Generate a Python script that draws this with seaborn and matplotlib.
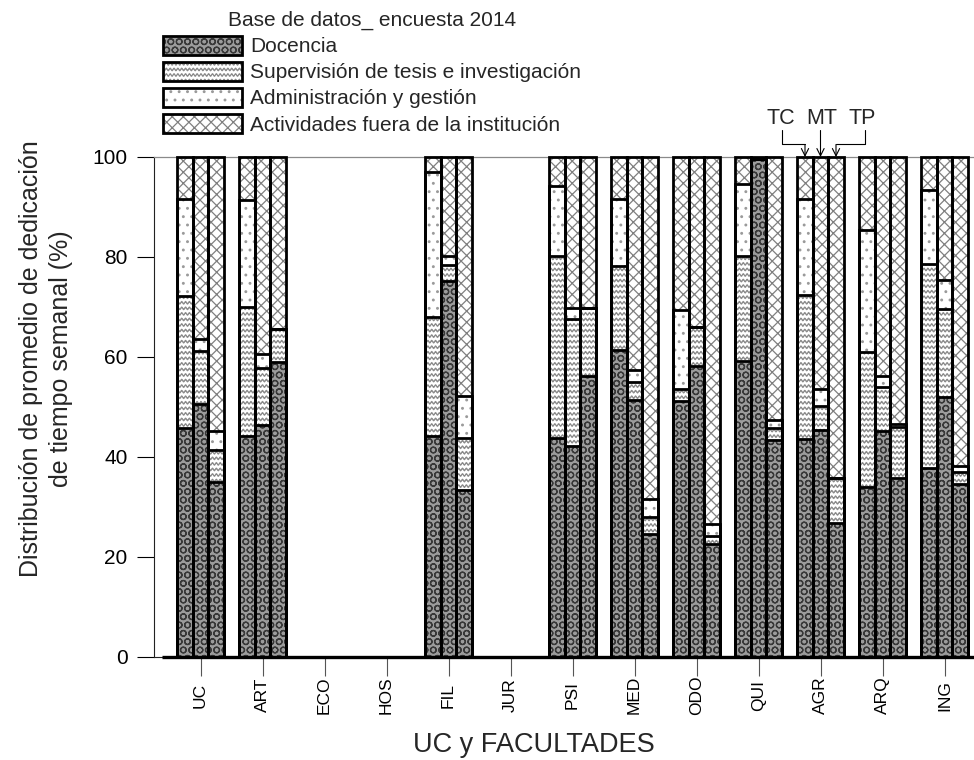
import numpy as np
import pandas as pd
import matplotlib
matplotlib.use("Agg")
import matplotlib.pyplot as plt
import matplotlib.hatch as mhatch
from matplotlib.path import Path
from matplotlib.patches import Patch
from matplotlib.legend_handler import HandlerTuple
from matplotlib import font_manager as fm
import seaborn as sns

# ---------------------------------------------------------------- data
facultades = ["UC", "ART", "ECO", "HOS", "FIL", "JUR", "PSI",
              "MED", "ODO", "QUI", "AGR", "ARQ", "ING"]
jornadas = ["TC", "MT", "TP"]
actividades = ["Docencia",
               "Supervisión de tesis e investigación",
               "Administración y gestión",
               "Actividades fuera de la institución"]

docencia = {
    "TC": [45.9, 44.1, 0, 0, 44.1, 0, 43.7, 61.3, 51.1, 59.1, 43.6, 34.1, 37.7],
    "MT": [50.5, 46.5, 0, 0, 75.2, 0, 42.2, 51.4, 58.1, 99.5, 45.5, 45.1, 51.9],
    "TP": [35.0, 58.9, 0, 0, 33.4, 0, 56.1, 24.6, 22.6, 43.5, 26.9, 35.9, 34.6],
}
supervision = {
    "TC": [26.3, 25.8, 0, 0, 23.8, 0, 36.5, 16.8, 2.4, 21.0, 28.8, 26.8, 40.8],
    "MT": [10.7, 11.2, 0, 0, 3.2, 0, 25.3, 3.5, 7.8, 0.0, 4.8, 8.8, 17.6],
    "TP": [6.4, 6.7, 0, 0, 10.3, 0, 13.7, 3.4, 1.6, 2.2, 8.8, 10.1, 2.5],
}
administracion = {
    "TC": [19.4, 21.5, 0, 0, 29.0, 0, 14.0, 13.4, 15.9, 14.4, 19.2, 24.5, 14.8],
    "MT": [2.4, 2.9, 0, 0, 1.7, 0, 2.3, 2.5, 0.0, 0.0, 3.3, 2.3, 5.9],
    "TP": [3.7, 0.0, 0, 0, 8.4, 0, 0.0, 3.7, 2.4, 1.7, 0.0, 0.6, 1.1],
}
fuera = {
    "TC": [8.4, 8.6, 0, 0, 3.1, 0, 5.8, 8.5, 30.6, 5.5, 8.4, 14.6, 6.7],
    "MT": [36.4, 39.4, 0, 0, 19.9, 0, 30.2, 42.6, 34.1, 0.5, 46.4, 43.8, 24.6],
    "TP": [54.9, 34.4, 0, 0, 47.9, 0, 30.2, 68.3, 73.4, 52.6, 64.3, 53.4, 61.8],
}

yticks = [0, 20, 40, 60, 80, 100]

# ---------------------------------------------------------------- long table
capas = [docencia, supervision, administracion, fuera]
rows = []
for act, capa in zip(actividades, capas):
    for j in jornadas:
        for f, v in zip(facultades, capa[j]):
            rows.append({"facultad": f, "jornada": j, "actividad": act, "valor": v})
df = pd.DataFrame(rows)
df["acumulado"] = df.groupby(["facultad", "jornada"], sort=False)["valor"].cumsum()


# ---------------------------------------------------------------- wavy hatch
class WavyHatch(mhatch.HatchPatternBase):
    """Horizontal wavy lines, used for the '-' hatch character."""
    waves = 26

    def __init__(self, hatch, density):
        self.num_lines = int((hatch.count('-') + hatch.count('+')) * density)
        self.pts = 8 * self.waves + 1
        self.num_vertices = self.num_lines * self.pts

    def set_vertices_and_codes(self, vertices, codes):
        steps, stepsize = np.linspace(0.0, 1.0, self.num_lines, False,
                                      retstep=True)
        steps += stepsize / 2.0
        xs = np.linspace(0.0, 1.0, self.pts)
        wave = 0.22 * stepsize * np.sin(2 * np.pi * self.waves * xs)
        for i, y in enumerate(steps):
            sl = slice(i * self.pts, (i + 1) * self.pts)
            vertices[sl, 0] = xs
            vertices[sl, 1] = y + wave
            codes[sl] = Path.LINETO
            codes[i * self.pts] = Path.MOVETO


mhatch._hatch_types = [WavyHatch if t is mhatch.HorizontalHatch else t
                       for t in mhatch._hatch_types]

# ---------------------------------------------------------------- style
sns.set_style("white")
_names = {f.name for f in fm.fontManager.ttflist}
SANS = "Liberation Sans"
NARROW = "Liberation Sans Narrow" if "Liberation Sans Narrow" in _names else SANS
plt.rcParams["font.family"] = [SANS, "DejaVu Sans"]
plt.rcParams["hatch.linewidth"] = 0.9

estilos = {
    actividades[0]: dict(face="#9c9c9c", hatch="OO", tinta="#383838"),
    actividades[1]: dict(face="white", hatch="---", tinta="#8a8a8a"),
    actividades[2]: dict(face="white", hatch="..", tinta="#9a9a9a"),
    actividades[3]: dict(face="white", hatch="xxx", tinta="#808080"),
}

W_PX, H_PX = 974, 760
fig = plt.figure(figsize=(W_PX / 100, H_PX / 100), dpi=100)
ax = fig.add_axes([154 / W_PX, 1 - 657 / H_PX, 1 - 154 / W_PX, 500 / H_PX])

ANCHO = 0.75
for act in reversed(actividades):
    sub = df[df["actividad"] == act]
    st = estilos[act]
    sns.barplot(data=sub, x="facultad", y="acumulado", hue="jornada",
                order=facultades, hue_order=jornadas,
                palette=[st["face"]] * 3, saturation=1, width=ANCHO,
                dodge=True, gap=0, errorbar=None, legend=False,
                edgecolor=st["tinta"], linewidth=0, hatch=st["hatch"],
                zorder=2, ax=ax)
    sns.barplot(data=sub, x="facultad", y="acumulado", hue="jornada",
                order=facultades, hue_order=jornadas,
                palette=["black"] * 3, fill=False, width=ANCHO,
                dodge=True, gap=0, errorbar=None, legend=False,
                linewidth=2.0, clip_on=False, zorder=3, ax=ax)

n = len(facultades)
paso = ANCHO / len(jornadas)
ax.hlines(0, -0.5 - paso / 2, n - 0.5 + paso / 2, color="black",
          linewidth=2.4, zorder=3, clip_on=False)

ax.set_xlim(-0.75, -0.75 + (W_PX - 154) / 62.0)
ax.set_ylim(0, 100)
ax.set_yticks(yticks)

ax.spines["right"].set_visible(False)
ax.spines["top"].set_color("#8a8a8a")
ax.spines["top"].set_linewidth(0.9)
ax.spines["left"].set_color("#222222")
ax.spines["left"].set_linewidth(0.8)
ax.spines["bottom"].set_color("#222222")
ax.spines["bottom"].set_linewidth(0.8)

ax.tick_params(axis="y", direction="out", length=12, width=0.8, pad=7,
               labelsize=15, colors="black", left=True)
ax.tick_params(axis="x", direction="out", length=14, width=0.8, pad=13.5,
               labelsize=12.5, colors="black", labelrotation=90, bottom=True)
ax.tick_params(axis="x", color="#555555")
for lab in ax.get_xticklabels():
    lab.set_va("center")
    lab.set_family([NARROW, "DejaVu Sans"])

ax.set_xlabel("UC y FACULTADES", fontsize=19.5, family=[NARROW, "DejaVu Sans"],
              va="center")
ax.xaxis.set_label_coords(0.4634, -0.176)
ax.set_ylabel("Distribución de promedio de dedicación\nde tiempo semanal (%)",
              fontsize=18, va="center", ha="center", multialignment="center",
              linespacing=1.3)
ax.yaxis.set_label_coords(-0.1317, 0.596)

# ---------------------------------------------------------------- TC / MT / TP key
i0 = facultades.index("AGR")
ln = dict(color="black", linewidth=0.8, clip_on=False, zorder=4)
flecha = dict(arrowstyle="->", color="black", lw=0.8, shrinkA=0, shrinkB=0,
              mutation_scale=13)
for j, (etq, dx_txt, dx_codo) in zip(jornadas, [("TC", -0.64, -0.62),
                                                 ("MT", 0.02, 0.0),
                                                 ("TP", 0.67, 0.72)]):
    xb = i0 + (jornadas.index(j) - 1) * paso
    ax.text(i0 + dx_txt, 107.6, etq, fontsize=15.5, ha="center", va="center",
            clip_on=False)
    if dx_codo == 0.0:
        ax.annotate("", xy=(xb, 100), xytext=(xb, 105.3), arrowprops=flecha,
                    annotation_clip=False)
    else:
        ax.plot([i0 + dx_codo, i0 + dx_codo, xb], [105.3, 102.5, 102.5], **ln)
        ax.annotate("", xy=(xb, 100), xytext=(xb, 102.5), arrowprops=flecha,
                    annotation_clip=False)

# ---------------------------------------------------------------- legend
handles = []
for act in actividades:
    st = estilos[act]
    handles.append((Patch(facecolor=st["face"], edgecolor=st["tinta"],
                          hatch=st["hatch"], linewidth=0),
                    Patch(facecolor="none", edgecolor="black", linewidth=2.0)))
fig.legend(handles, actividades, loc="upper left",
           bbox_to_anchor=(163 / W_PX, 1 - 11 / H_PX),
           title="Base de datos_ encuesta 2014", title_fontsize=15,
           fontsize=15, frameon=False, borderpad=0, borderaxespad=0,
           handlelength=3.8, handleheight=1.0, labelspacing=0.27,
           handletextpad=0.38,
           handler_map={tuple: HandlerTuple(ndivide=1, pad=0)})

fig.savefig("out.png", dpi=100)
